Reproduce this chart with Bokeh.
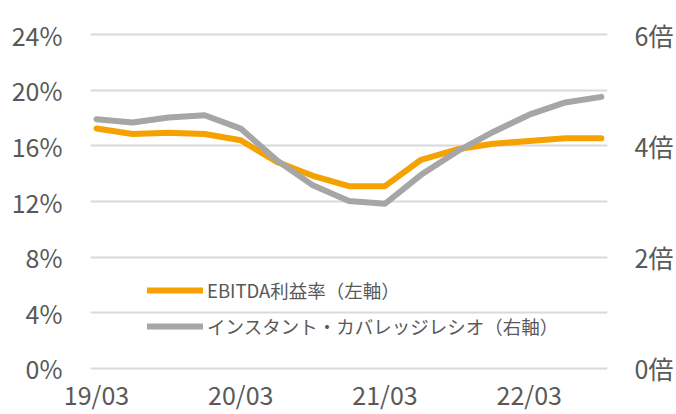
from bokeh.plotting import figure
from bokeh.models import Range1d, LinearAxis, FixedTicker, Legend, LegendItem
from bokeh.embed import file_html
from bokeh.resources import INLINE

quarters = ["19/03", "19/06", "19/09", "19/12", "20/03", "20/06", "20/09", "20/12",
            "21/03", "21/06", "21/09", "21/12", "22/03", "22/06", "22/09"]
ebitda_margin = [17.25, 16.85, 16.95, 16.85, 16.4, 14.85, 13.85, 13.1,
                 13.1, 15.0, 15.75, 16.15, 16.35, 16.55, 16.55]
icr = [4.48, 4.42, 4.51, 4.55, 4.31, 3.74, 3.29, 3.01,
       2.96, 3.48, 3.9, 4.25, 4.56, 4.78, 4.88]
left_ticks = [0, 4, 8, 12, 16, 20, 24]
right_ticks = [0, 2, 4, 6]
x_tick_idx = [0, 4, 8, 12]

FONT = "Noto Sans CJK JP"
TXT = "#595959"
ORANGE = "#F5A200"
GRAY = "#A6A6A6"

x = list(range(len(quarters)))

p = figure(width=676, height=414, output_backend="svg", toolbar_location=None,
           x_range=Range1d(-0.166, 14.17), y_range=Range1d(-0.15, 24.15),
           min_border_left=90, min_border_right=68, min_border_top=32, min_border_bottom=43)
p.extra_y_ranges = {"right": Range1d(-0.0375, 6.0375)}
p.outline_line_color = None
p.background_fill_color = "white"
p.border_fill_color = "white"

# left axis
ya = p.yaxis[0]
ya.ticker = FixedTicker(ticks=left_ticks)
ya.major_label_overrides = {t: f"{t}%" for t in left_ticks}

# right axis
ra = LinearAxis(y_range_name="right", ticker=FixedTicker(ticks=right_ticks))
ra.major_label_overrides = {t: f"{t}倍" for t in right_ticks}
p.add_layout(ra, "right")

# x axis
xa = p.xaxis[0]
xa.ticker = FixedTicker(ticks=x_tick_idx)
xa.major_label_overrides = {i: quarters[i] for i in x_tick_idx}

for ax in [ya, ra, xa]:
    ax.axis_line_color = None
    ax.major_tick_line_color = None
    ax.minor_tick_line_color = None
    ax.major_tick_out = 0
    ax.major_tick_in = 0
    ax.major_label_text_font = FONT
    ax.major_label_text_font_size = "25px"
    ax.major_label_text_color = TXT
ya.major_label_standoff = 28
ra.major_label_standoff = 27
xa.major_label_standoff = 5

p.xgrid.grid_line_color = None
p.ygrid.ticker = FixedTicker(ticks=left_ticks)
p.ygrid.grid_line_color = "#D9D9D9"
p.ygrid.grid_line_width = 2

r1 = p.line(x, ebitda_margin, line_color=ORANGE, line_width=6, line_cap="round", line_join="round")
r2 = p.line(x, icr, y_range_name="right", line_color=GRAY, line_width=6, line_cap="round", line_join="round")

legend = Legend(items=[LegendItem(label="EBITDA利益率（左軸）", renderers=[r1]),
                       LegendItem(label="インスタント・カバレッジレシオ（右軸）", renderers=[r2])],
                location=(57, 31))
legend.background_fill_alpha = 0
legend.border_line_color = None
legend.padding = 0
legend.margin = 0
legend.spacing = 10
legend.glyph_width = 56
legend.glyph_height = 20
legend.label_height = 20
legend.label_standoff = 4
legend.label_text_font = FONT
legend.label_text_font_size = "18.5px"
legend.label_text_color = TXT
p.add_layout(legend, "center")

open("out.html", "w").write(file_html(p, INLINE))
